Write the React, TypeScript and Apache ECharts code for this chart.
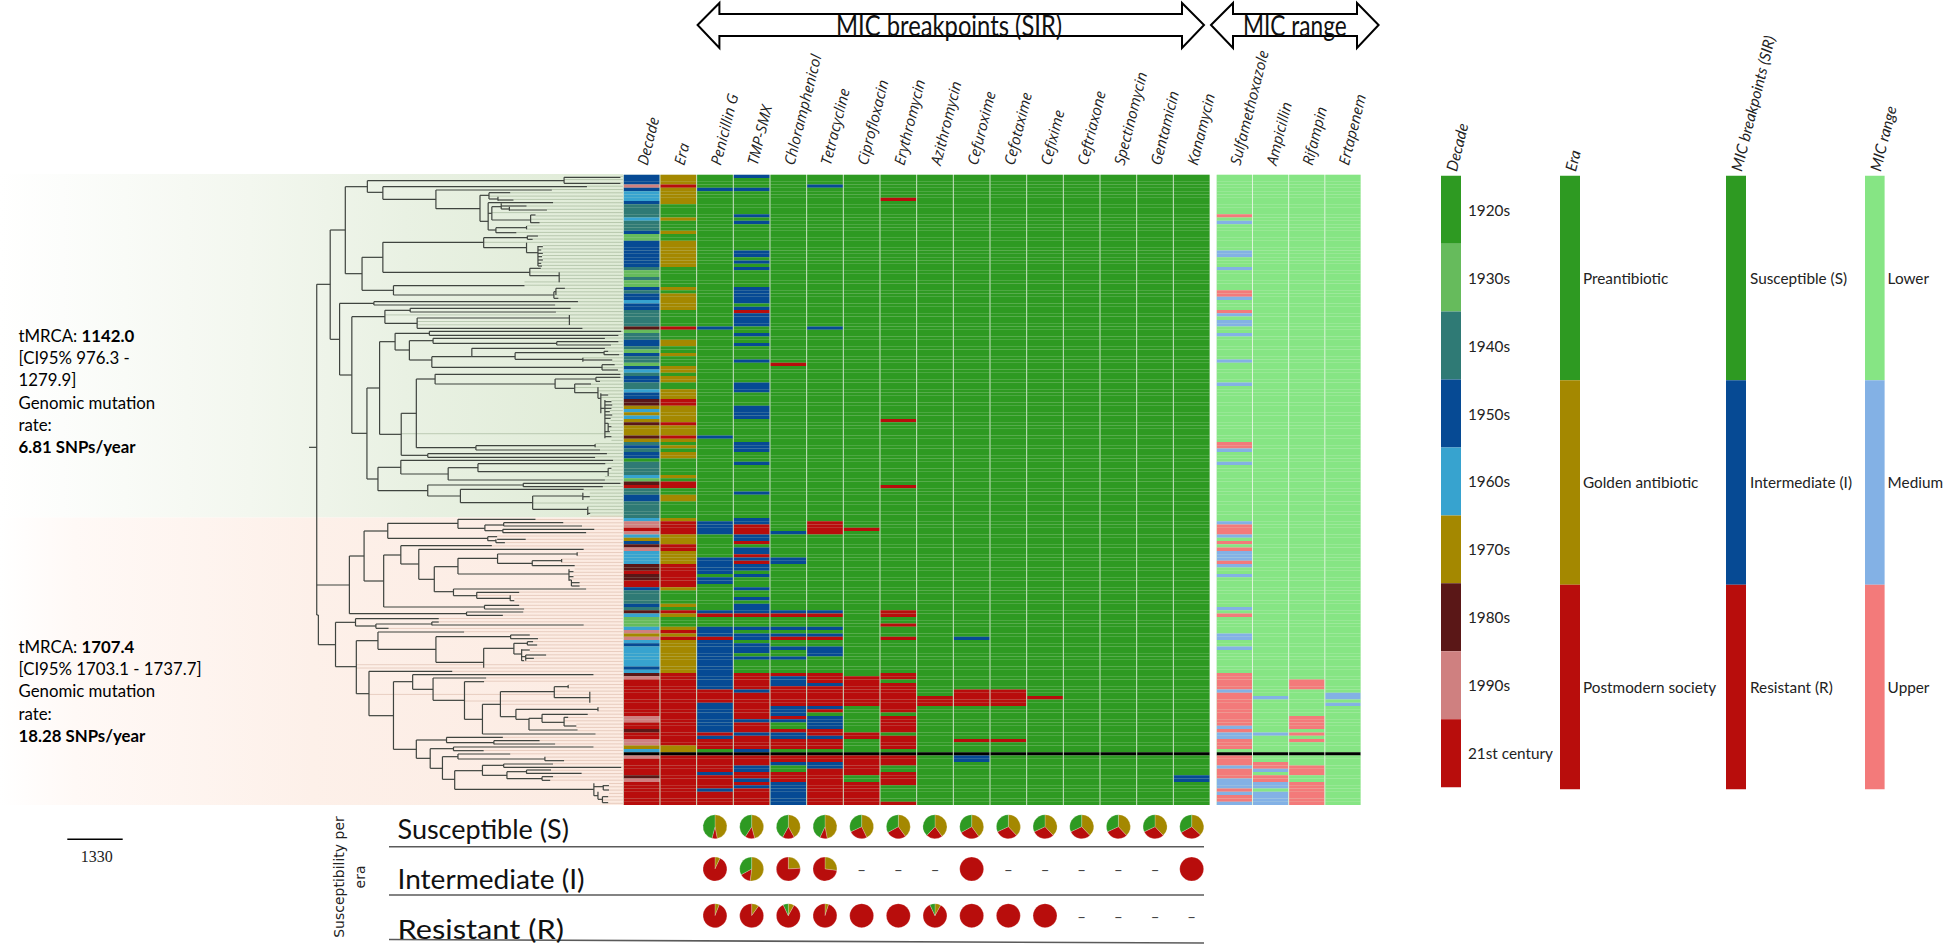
import React, { useEffect, useRef } from "react";
import * as echarts from "echarts";

type Run = [number, number, string];
type Seg = number[];

// ---------- palette ----------
const paletteKeys = ["20", "30", "40", "50", "60", "70", "80", "90", "21", "Pre", "Gold", "Post", "S", "I", "R", "L", "M", "U", "X"];
const paletteColors = ["#2e9a22", "#66bb5c", "#2f7a75", "#064a94", "#37a3cf", "#a48800", "#5a1717", "#cf8080", "#b80d0c", "#2e9a22", "#a48800", "#b80d0c", "#2e9a22", "#064a94", "#b80d0c", "#86e584", "#83b1e5", "#f37a7a", "#000000"];

// ---------- heat map rows ----------
const ROW_COUNT = 191;
const noDataRow = 175;

const sirColumns = ["Decade", "Era", "Penicillin G", "TMP-SMX", "Chloramphenicol", "Tetracycline", "Ciprofloxacin", "Erythromycin", "Azithromycin", "Cefuroxime", "Cefotaxime", "Cefixime", "Ceftriaxone", "Spectinomycin", "Gentamicin", "Kanamycin"];
const micColumns = ["Sulfamethoxazole", "Ampicillin", "Rifampin", "Ertapenem"];

const decadeRuns: Run[] = [[0,2,"50"],[3,3,"90"],[4,4,"50"],[5,7,"60"],[8,8,"50"],[9,12,"40"],[13,13,"60"],[14,16,"40"],[17,17,"50"],[18,19,"30"],[20,27,"50"],[28,28,"40"],[29,30,"30"],[31,31,"40"],[32,33,"30"],[34,34,"50"],[35,35,"40"],[36,37,"50"],[38,38,"60"],[39,40,"50"],[41,45,"40"],[46,46,"80"],[47,47,"30"],[48,49,"40"],[50,51,"50"],[52,52,"40"],[53,53,"30"],[54,54,"50"],[55,56,"40"],[57,57,"30"],[58,58,"50"],[59,59,"60"],[60,60,"40"],[61,62,"50"],[63,64,"40"],[65,65,"60"],[66,67,"50"],[68,69,"80"],[70,70,"70"],[71,71,"60"],[72,72,"70"],[73,73,"60"],[74,74,"70"],[75,75,"80"],[76,78,"70"],[79,79,"80"],[80,80,"70"],[81,81,"40"],[82,82,"50"],[83,83,"40"],[84,85,"50"],[86,86,"20"],[87,90,"40"],[91,91,"60"],[92,92,"30"],[93,93,"80"],[94,94,"21"],[95,96,"40"],[97,98,"50"],[99,103,"40"],[104,104,"60"],[105,106,"90"],[107,107,"21"],[108,108,"90"],[109,109,"60"],[110,110,"70"],[111,111,"50"],[112,112,"80"],[113,113,"90"],[114,117,"60"],[118,119,"80"],[120,120,"21"],[121,122,"80"],[123,124,"21"],[125,125,"50"],[126,129,"40"],[130,130,"50"],[131,131,"40"],[132,132,"80"],[133,133,"60"],[134,136,"30"],[137,137,"60"],[138,138,"90"],[139,139,"70"],[140,140,"90"],[141,141,"60"],[142,142,"50"],[143,148,"60"],[149,149,"50"],[150,150,"60"],[151,151,"80"],[152,152,"90"],[153,163,"21"],[164,165,"90"],[166,167,"21"],[168,168,"80"],[169,170,"21"],[171,172,"90"],[173,173,"70"],[174,174,"60"],[176,176,"90"],[177,181,"21"],[182,182,"80"],[183,183,"90"],[184,190,"21"]];

const eraRuns: Run[] = [[0,2,"Gold"],[3,3,"Post"],[4,8,"Gold"],[13,13,"Gold"],[17,17,"Gold"],[20,27,"Gold"],[34,34,"Gold"],[36,40,"Gold"],[46,46,"Post"],[50,51,"Gold"],[54,54,"Gold"],[58,59,"Gold"],[61,62,"Gold"],[65,67,"Gold"],[68,69,"Post"],[70,74,"Gold"],[75,75,"Post"],[76,78,"Gold"],[79,79,"Post"],[80,80,"Gold"],[82,82,"Gold"],[84,85,"Gold"],[91,91,"Gold"],[93,94,"Post"],[97,98,"Gold"],[104,104,"Gold"],[105,108,"Post"],[109,111,"Gold"],[112,113,"Post"],[114,117,"Gold"],[118,124,"Post"],[125,125,"Gold"],[130,130,"Gold"],[132,132,"Post"],[133,133,"Gold"],[137,137,"Gold"],[138,138,"Post"],[139,139,"Gold"],[140,140,"Post"],[141,150,"Gold"],[151,172,"Post"],[173,174,"Gold"],[176,190,"Post"]];

const penicillinRuns: Run[] = [[4,4,"I"],[46,46,"I"],[79,79,"I"],[105,108,"I"],[116,120,"I"],[122,123,"I"],[132,132,"I"],[133,133,"R"],[137,139,"I"],[140,140,"R"],[141,155,"I"],[156,159,"R"],[160,168,"I"],[169,169,"R"],[170,170,"I"],[171,173,"R"],[176,180,"R"],[181,181,"I"],[182,185,"R"],[186,186,"I"],[187,190,"R"]];
const tmpSmxRuns: Run[] = [[0,0,"I"],[4,4,"I"],[12,12,"I"],[14,14,"I"],[23,24,"I"],[26,26,"I"],[28,28,"I"],[34,38,"I"],[40,40,"I"],[41,41,"R"],[42,45,"I"],[48,48,"I"],[51,51,"I"],[56,56,"I"],[63,65,"I"],[70,73,"I"],[81,83,"I"],[87,87,"I"],[96,96,"I"],[104,105,"I"],[106,108,"R"],[109,110,"I"],[111,111,"R"],[113,114,"I"],[115,115,"R"],[116,116,"I"],[117,117,"R"],[118,119,"I"],[121,121,"I"],[125,125,"I"],[128,128,"I"],[130,132,"I"],[133,133,"R"],[137,137,"I"],[139,140,"I"],[142,144,"I"],[146,146,"I"],[151,155,"R"],[156,156,"I"],[157,164,"R"],[165,165,"I"],[166,168,"R"],[169,169,"I"],[170,173,"R"],[174,174,"I"],[176,178,"R"],[179,180,"I"],[181,182,"R"],[183,183,"I"],[184,184,"R"],[185,185,"I"],[186,190,"R"]];
const chloramphenicolRuns: Run[] = [[57,57,"R"],[108,108,"I"],[116,117,"I"],[132,132,"I"],[133,133,"R"],[137,137,"I"],[139,139,"I"],[140,140,"R"],[143,143,"I"],[146,146,"I"],[151,151,"R"],[152,154,"I"],[155,160,"R"],[161,163,"I"],[164,164,"R"],[165,165,"I"],[168,168,"R"],[169,170,"I"],[171,173,"R"],[176,177,"R"],[178,178,"I"],[181,183,"R"],[184,190,"I"]];
const tetracyclineRuns: Run[] = [[3,3,"I"],[46,46,"I"],[105,108,"R"],[132,132,"I"],[133,133,"R"],[137,137,"I"],[139,139,"I"],[140,140,"R"],[143,145,"I"],[151,153,"R"],[154,154,"I"],[155,160,"R"],[161,161,"I"],[162,162,"R"],[164,167,"I"],[168,169,"R"],[170,170,"I"],[171,173,"R"],[176,177,"R"],[178,179,"I"],[180,190,"R"]];
const ciprofloxacinRuns: Run[] = [[107,107,"R"],[152,160,"R"],[169,170,"R"],[176,181,"R"],[184,190,"R"]];
const erythromycinRuns: Run[] = [[7,7,"R"],[74,74,"R"],[94,94,"R"],[132,133,"R"],[136,136,"R"],[140,140,"R"],[151,152,"R"],[154,162,"R"],[164,168,"R"],[170,173,"R"],[176,178,"R"],[181,184,"R"],[190,190,"R"]];
const azithromycinRuns: Run[] = [[158,160,"R"]];
const cefuroximeRuns: Run[] = [[140,140,"I"],[156,160,"R"],[171,171,"R"],[176,177,"I"]];
const cefotaximeRuns: Run[] = [[156,160,"R"],[171,171,"R"]];
const cefiximeRuns: Run[] = [[158,158,"R"]];
const ceftriaxoneRuns: Run[] = [];
const spectinomycinRuns: Run[] = [];
const gentamicinRuns: Run[] = [];
const kanamycinRuns: Run[] = [[182,183,"I"]];

const sulfaRuns: Run[] = [[12,12,"U"],[14,14,"M"],[23,24,"M"],[28,28,"M"],[35,36,"U"],[37,37,"M"],[41,41,"U"],[42,42,"M"],[44,45,"M"],[48,48,"M"],[56,56,"M"],[63,63,"M"],[81,82,"U"],[83,83,"M"],[87,87,"M"],[105,105,"M"],[106,108,"U"],[109,109,"M"],[111,111,"U"],[113,113,"U"],[114,116,"M"],[117,117,"U"],[118,118,"M"],[121,121,"M"],[131,131,"M"],[133,133,"U"],[139,140,"M"],[143,143,"M"],[151,155,"U"],[156,156,"M"],[157,166,"U"],[167,167,"M"],[168,168,"U"],[169,170,"M"],[171,173,"U"],[176,178,"U"],[179,179,"M"],[180,182,"U"],[183,185,"M"],[186,186,"U"],[187,187,"M"],[188,189,"U"],[190,190,"M"]];
const ampicillinRuns: Run[] = [[158,158,"M"],[169,169,"M"],[178,179,"U"],[180,180,"M"],[182,183,"U"],[184,185,"M"],[187,190,"M"]];
const rifampinRuns: Run[] = [[153,155,"U"],[164,167,"U"],[169,169,"U"],[171,171,"U"],[179,181,"U"],[184,190,"U"]];
const ertapenemRuns: Run[] = [[157,158,"M"],[160,160,"M"]];

const sirRuns: Run[][] = [decadeRuns, eraRuns, penicillinRuns, tmpSmxRuns, chloramphenicolRuns, tetracyclineRuns, ciprofloxacinRuns, erythromycinRuns, azithromycinRuns, cefuroximeRuns, cefotaximeRuns, cefiximeRuns, ceftriaxoneRuns, spectinomycinRuns, gentamicinRuns, kanamycinRuns];
const sirDefaults = ["40", "Pre", "S", "S", "S", "S", "S", "S", "S", "S", "S", "S", "S", "S", "S", "S"];
const micRuns: Run[][] = [sulfaRuns, ampicillinRuns, rifampinRuns, ertapenemRuns];

// ---------- tree: [x1, x2, y] horizontals and [x, y1, y2] verticals ----------
const topH: Seg[] = [[757,776,862],[776,809,373],[809,846,210],[846,900,80],[900,1382,62],[1382,1520,52],[1382,1520,70],[900,938,97],[938,1438,80],[938,1068,118],[1068,1352,90],[1068,1176,146],[1176,1198,106],[1198,1250,98],[1198,1220,117],[1220,1258,120],[1176,1196,184],[1196,1355,128],[1196,1205,160],[1205,1228,140],[1228,1290,138],[1228,1248,147],[1248,1340,150],[1205,1300,180],[1300,1312,165],[1300,1322,188],[1196,1215,210],[1215,1290,203],[1215,1265,218],
[846,887,341],[887,938,292],[938,1185,247],[1185,1292,233],[1292,1318,228],[1292,1305,238],[1185,1290,263],[1290,1318,278],[1318,1330,260],[1318,1326,270],[1318,1330,280],[1318,1328,290],[1318,1330,300],[1318,1326,310],[1318,1328,318],[938,1298,337],[1298,1325,325],[1298,1370,347],[887,964,391],[964,1285,377],[964,1357,405],[1357,1362,395],[1362,1384,385],[1357,1368,415],
[809,832,538],[832,916,430],[916,1416,425],[916,1360,435],[832,862,645],[862,943,470],[943,1005,451],[1005,1398,445],[1005,1362,456],[943,1022,490],[1022,1395,474],[1022,1427,505],[862,899,820],[899,930,684],[930,968,545],[968,1052,520],[1052,1522,514],[1052,1515,526],[968,1003,570],[1003,1061,542],[1061,1482,535],[1061,1364,550],[1364,1515,545],[1364,1497,555],[1003,1058,600],[1058,1156,590],[1156,1482,565],[1156,1262,590],[1262,1480,578],[1480,1490,574],[1480,1517,584],[1262,1428,598],[1428,1500,600],[1058,1475,622],[1475,1506,614],[1475,1514,630],
[930,983,823],[983,1020,760],[1020,1066,657],[1066,1520,643],[1066,1360,672],[1360,1460,657],[1460,1520,652],[1460,1470,664],[1360,1408,685],[1408,1448,672],[1408,1465,698],[1465,1472,715],[1472,1482,745],[1472,1490,705],[1482,1498,725],[1482,1500,735],[1482,1498,745],[1482,1494,755],[1482,1500,765],[1482,1496,775],[1482,1490,790],[1490,1498,800],[1482,1494,815],[1482,1498,830],[1020,1166,863],[1166,1458,857],[1166,1470,870],[983,1048,886],[1048,1487,881],[1048,1458,892],
[899,926,957],[926,982,922],[982,1502,901],[982,1098,942],[1098,1171,923],[1171,1483,911],[1171,1490,935],[1490,1498,925],[1098,1482,960],[926,1048,992],[1048,1282,975],[1282,1520,970],[1282,1477,980],[1048,1128,1008],[1128,1430,988],[1128,1305,1028],[1305,1428,1008],[1428,1445,1010],[1305,1440,1048],[1440,1446,1060]];
const topV: Seg[] = [[776,373,1050],[809,210,538],[846,80,341],[900,62,97],[1382,52,70],[938,80,118],[1068,90,146],[1176,106,184],[1198,98,117],[1220,110,122],[1196,128,210],[1205,140,180],[1228,130,147],[1248,140,152],[1300,165,188],[1215,203,218],[1290,198,208],[887,292,391],[938,247,337],[1185,233,263],[1292,227,238],[1290,248,278],[1318,258,318],[1298,325,347],[1370,337,367],[964,377,405],[1357,395,415],[1362,385,405],
[832,430,645],[916,425,435],[862,470,820],[943,451,490],[1005,445,456],[1022,474,505],[1395,465,495],[899,684,957],[930,545,823],[968,520,570],[1052,514,526],[1003,542,600],[1061,535,550],[1364,545,555],[1058,590,622],[1156,565,590],[1262,578,598],[1480,574,584],[1428,593,605],[1475,614,630],
[983,760,886],[1020,657,863],[1066,643,672],[1360,657,685],[1460,652,664],[1408,672,698],[1465,682,715],[1472,700,760],[1482,720,835],[1490,790,815],[1166,857,870],[1458,852,862],[1048,881,892],[926,922,992],[982,901,942],[1098,923,960],[1171,911,935],[1490,925,948],[1048,975,1008],[1282,970,980],[1128,988,1028],[1305,1008,1048],[1428,998,1020],[1440,1040,1065]];

const bottomH: Seg[] = [[776,856,225],[856,892,138],[892,950,63],[950,1122,40],[1122,1312,28],[1122,1188,55],[1188,1234,45],[1234,1380,38],[1234,1426,48],[1188,1232,62],[1232,1456,58],[1232,1436,68],[950,1195,85],[1195,1218,80],[1218,1288,88],[1195,1215,92],[1215,1237,98],[892,940,213],[940,982,135],[982,1205,107],[982,1026,162],[1026,1430,118],[1026,1064,208],[1064,1122,170],[1122,1219,145],[1219,1414,132],[1219,1304,160],[1304,1376,152],[1304,1408,167],[1122,1394,192],[1394,1405,185],[1394,1405,200],[1394,1400,210],[1400,1420,218],[1400,1420,228],[1064,1111,245],[1111,1436,237],[1111,1168,257],[1168,1272,247],[1168,1250,265],[1250,1260,272],[940,1187,291],[1187,1272,286],[1187,1284,297],[856,1143,311],[1143,1282,306],[1143,1232,316],
[776,780,315],[780,822,404],[822,871,337],[871,1075,326],[871,921,348],[921,1058,342],[1058,1430,345],[1058,1075,336],[921,952,355],[822,873,470],[873,926,392],[926,1137,366],[926,1068,418],[1068,1251,380],[1251,1298,375],[1251,1318,386],[1068,1185,457],[1185,1259,415],[1259,1292,400],[1292,1306,395],[1292,1316,405],[1259,1278,432],[1278,1298,420],[1278,1288,440],[1288,1338,435],[1288,1308,445],[1278,1284,452],
[873,904,551],[904,1108,484],[904,964,617],[964,1011,515],[1011,1454,494],[1011,1061,538],[1061,1191,504],[1061,1138,571],[1138,1186,515],[1138,1182,628],[1182,1226,583],[1226,1358,545],[1358,1392,530],[1358,1445,563],[1226,1264,620],[1264,1465,598],[1264,1296,628],[1296,1328,625],[1328,1440,613],[1328,1382,637],[1382,1392,622],[1382,1412,648],[1296,1415,660],[1182,1459,672],
[964,1020,718],[1020,1094,690],[1094,1232,682],[1094,1210,698],[1210,1322,692],[1210,1360,702],[1020,1054,745],[1054,1111,716],[1111,1454,711],[1111,1185,722],[1054,1084,775],[1084,1122,740],[1122,1250,732],[1122,1335,747],[1335,1382,752],[1084,1114,808],[1114,1182,782],[1182,1234,766],[1234,1522,772],[1234,1355,762],[1182,1242,796],[1242,1290,785],[1290,1350,780],[1290,1425,790],[1242,1328,806],[1328,1355,800],[1328,1348,811],[1114,1455,838],[1455,1478,830],[1478,1492,827],[1478,1492,840],[1455,1465,857],[1465,1476,868],[1476,1490,860],[1476,1490,878]];
const bottomV: Seg[] = [[776,0,315],[856,138,311],[892,63,213],[950,40,85],[1122,28,55],[1188,45,62],[1234,38,48],[1232,58,68],[1195,80,92],[1215,88,98],[940,135,291],[982,107,162],[1026,118,208],[1064,170,245],[1122,145,192],[1219,132,160],[1414,127,137],[1304,152,167],[1376,147,157],[1394,178,212],[1400,210,228],[1111,237,257],[1168,247,265],[1250,256,272],[1187,286,297],[1143,306,316],
[780,315,404],[822,337,470],[871,326,348],[921,342,355],[1058,336,346],[873,392,551],[926,366,418],[1068,380,457],[1251,375,386],[1185,415,473],[1259,400,432],[1292,395,405],[1278,418,452],[1288,435,452],[904,484,617],[964,515,718],[1011,494,538],[1061,504,571],[1138,515,628],[1182,583,672],[1226,545,620],[1358,530,563],[1392,525,535],[1445,545,578],[1264,598,628],[1465,592,604],[1296,625,660],[1328,613,637],[1382,622,648],
[1020,690,745],[1094,682,698],[1210,692,703],[1054,716,775],[1111,711,722],[1084,740,808],[1122,732,747],[1335,740,752],[1114,782,838],[1182,766,796],[1234,762,772],[1242,785,806],[1290,780,791],[1328,800,811],[1455,820,857],[1478,825,840],[1465,845,868],[1476,860,878]];

// ---------- legends ----------
const decadeLegend = ["1920s", "1930s", "1940s", "1950s", "1960s", "1970s", "1980s", "1990s", "21st century"];
const decadeCodes = ["20", "30", "40", "50", "60", "70", "80", "90", "21"];
const eraLegend = ["Preantibiotic", "Golden antibiotic", "Postmodern society"];
const eraCodes = ["Pre", "Gold", "Post"];
const sirLegend = ["Susceptible (S)", "Intermediate (I)", "Resistant (R)"];
const sirCodes = ["S", "I", "R"];
const micLegend = ["Lower", "Medium", "Upper"];
const micCodes = ["L", "M", "U"];

// ---------- pies: [golden, postmodern, preantibiotic] percent per antibiotic ----------
const pieRowNames = ["Susceptible (S)", "Intermediate (I)", "Resistant (R)"];
const susceptiblePies = [[47,7,46],[46,13,41],[42,16,42],[47,10,43],[43,25,32],[40,27,33],[40,22,38],[40,27,33],[38,30,32],[38,30,32],[38,30,32],[38,30,32],[38,30,32],[37,30,33]];
const intermediatePies = [[7,93,0],[52,15,33],[24,76,0],[27,73,0],null,null,null,[0,100,0],null,null,null,null,null,[0,100,0]];
const resistantPies = [[6,94,0],[10,90,0],[8,85,7],[5,95,0],[0,100,0],[0,100,0],[8,85,7],[0,100,0],[0,100,0],[0,100,0],null,null,null,null];
const pieEras = ["Golden antibiotic", "Postmodern society", "Preantibiotic"];
const pieEraColors = ["#a48800", "#b80d0c", "#2e9a22"];

// ---------- helpers ----------
const colorIndex = (c: string) => paletteKeys.indexOf(c);

function expandColumn(runs: Run[], def: string): string[] {
  const out: string[] = new Array(ROW_COUNT).fill(def);
  runs.forEach(([a, b, c]) => { for (let i = a; i <= b; i++) out[i] = c; });
  out[noDataRow] = "X";
  return out;
}
function cellData(cols: Run[][], defs: string[]) {
  const d: number[][] = [];
  cols.forEach((runs, c) => expandColumn(runs, defs[c]).forEach((code, r) => d.push([c, r, colorIndex(code)])));
  return d;
}
const cellRender = (gapX: number) => (_p: any, api: any) => {
  const p = api.coord([api.value(0), api.value(1)]);
  const s = api.size([1, 1]);
  return {
    type: "rect",
    shape: { x: p[0] - s[0] / 2 + gapX / 2, y: p[1] - s[1] / 2, width: s[0] - gapX, height: s[1] },
    style: { fill: paletteColors[api.value(2)] },
  };
};
const lineRender = (color: string, width: number) => (_p: any, api: any) => {
  const a = api.coord([api.value(0), api.value(1)]);
  const b = api.coord([api.value(2), api.value(3)]);
  return {
    type: "line",
    shape: { x1: a[0], y1: a[1], x2: b[0], y2: b[1] },
    style: { stroke: color, lineWidth: width },
  };
};

const BOTTOM_OFFSET = 1050;
const treeSegments: number[][] = [
  ...topH.map(([a, b, y]) => [a, y, b, y]),
  ...topV.map(([x, a, b]) => [x, a, x, b]),
  ...bottomH.map(([a, b, y]) => [a, y + BOTTOM_OFFSET, b, y + BOTTOM_OFFSET]),
  ...bottomV.map(([x, a, b]) => [x, a + BOTTOM_OFFSET, x, b + BOTTOM_OFFSET]),
];
const treeTop = 44, rowStep = 9.9;
const allH = [...topH, ...bottomH.map(([a, b, y]) => [a, b, y + BOTTOM_OFFSET])];
const leaders = { top: [] as number[][], bottom: [] as number[][] };
for (let r = 0; r < ROW_COUNT; r++) {
  const y = treeTop + (r + 0.5) * rowStep;
  let start = 0;
  allH.forEach(([, b, yy]) => { if (Math.abs(yy - y) <= 6 && b > start) start = b; });
  if (!start) allH.forEach(([, b, yy]) => { if (Math.abs(yy - y) <= 14 && b > start) start = b; });
  if (!start) start = 1330;
  (r < 103 ? leaders.top : leaders.bottom).push([start, y, 1526, y]);
}

const catAxis = (data: string[], gridIndex: number, extra: any = {}) => ({
  type: "category", gridIndex, data,
  axisLine: { show: false }, axisTick: { show: false }, splitLine: { show: false },
  ...extra,
});

const LEFT_COLS = 623.3, COL_W = 36.67;
const FONT = "Lato";

const legendGrids = [
  { left: 1441, width: 20, top: 175.7, height: 611.5 },
  { left: 1560, width: 20, top: 175.7, height: 613.5 },
  { left: 1726, width: 20, top: 175.7, height: 613.5 },
  { left: 1865, width: 20, top: 175.7, height: 613.5 },
];
const legendDefs = [
  { title: "Decade", labels: decadeLegend, codes: decadeCodes, margin: 7 },
  { title: "Era", labels: eraLegend, codes: eraCodes, margin: 3 },
  { title: "MIC breakpoints (SIR)", labels: sirLegend, codes: sirCodes, margin: 4 },
  { title: "MIC range", labels: micLegend, codes: micCodes, margin: 3 },
];
const LABEL_ROTATE = -76;

function buildOption() {
  const grid: any[] = [
    { left: 0, width: 640, top: 174.67, height: 630.33 },
    { left: LEFT_COLS, width: COL_W * 16, top: 174.67, height: 630.33, show: true, backgroundColor: "#cfe3c9", borderWidth: 0 },
    { left: 1216.3, width: 144.7, top: 174.67, height: 630.33, show: true, backgroundColor: "#dff5dc", borderWidth: 0 },
    ...legendGrids,
  ];
  const rows = Array.from({ length: ROW_COUNT }, (_, i) => String(i));
  const colLabel = { rotate: LABEL_ROTATE, fontFamily: "Open Sans", fontStyle: "italic", fontSize: 15, color: "#222", margin: 10, interval: 0 };
  const xAxis: any[] = [
    { type: "value", gridIndex: 0, min: 0, max: 1568, show: false },
    catAxis(sirColumns, 1, { position: "top", axisLabel: colLabel }),
    catAxis(micColumns, 2, { position: "top", axisLabel: colLabel }),
  ];
  const yAxis: any[] = [
    { type: "value", gridIndex: 0, min: 44, max: 1935, inverse: true, show: false },
    catAxis(rows, 1, { inverse: true, axisLabel: { show: false } }),
    catAxis(rows, 2, { inverse: true, axisLabel: { show: false } }),
  ];
  const series: any[] = [
    { type: "custom", name: "leaders top", xAxisIndex: 0, yAxisIndex: 0, silent: true, clip: false, z: 2, data: leaders.top, renderItem: lineRender("rgba(95,125,85,0.32)", 1) },
    { type: "custom", name: "leaders bottom", xAxisIndex: 0, yAxisIndex: 0, silent: true, clip: false, z: 2, data: leaders.bottom, renderItem: lineRender("rgba(190,140,115,0.32)", 1) },
    { type: "custom", name: "tree", xAxisIndex: 0, yAxisIndex: 0, silent: true, clip: false, z: 3, data: treeSegments, renderItem: lineRender("#3f443f", 1.2) },
    { type: "custom", name: "SIR heat", xAxisIndex: 1, yAxisIndex: 1, silent: true, clip: false, z: 4, data: cellData(sirRuns, sirDefaults), renderItem: cellRender(1) },
    { type: "custom", name: "MIC heat", xAxisIndex: 2, yAxisIndex: 2, silent: true, clip: false, z: 4, data: cellData(micRuns, ["L", "L", "L", "L"]), renderItem: cellRender(1) },
  ];
  legendDefs.forEach((l, k) => {
    const g = 3 + k;
    xAxis.push(catAxis([l.title], g, {
      position: "top",
      axisLabel: { rotate: LABEL_ROTATE, fontFamily: FONT, fontStyle: "italic", fontSize: 15.5, color: "#222", margin: 5, interval: 0 },
    }));
    yAxis.push(catAxis(l.labels, g, {
      inverse: true, position: "right",
      axisLabel: { fontFamily: FONT, fontSize: 15.3, color: "#222", margin: l.margin, interval: 0 },
    }));
    series.push({
      type: "custom", name: l.title + " legend", xAxisIndex: g, yAxisIndex: g, silent: true, z: 4,
      data: l.codes.map((c, i) => [0, i, colorIndex(c)]),
      renderItem: cellRender(0),
    });
  });

  const pieCenterX = (i: number) => LEFT_COLS + COL_W * (i + 2.5);
  const pieRowY = [826.7, 869, 915.7];
  const graphicDashes: any[] = [];
  [susceptiblePies, intermediatePies, resistantPies].forEach((row, ri) => {
    row.forEach((vals, i) => {
      if (!vals) {
        graphicDashes.push({ type: "text", x: pieCenterX(i), y: pieRowY[ri], style: { text: "–", font: `15px ${FONT}`, fill: "#444", textAlign: "center", textVerticalAlign: "middle" } });
        return;
      }
      series.push({
        type: "pie", name: `${pieRowNames[ri]} ${sirColumns[i + 2]}`, silent: true, z: 5,
        center: [pieCenterX(i), pieRowY[ri]], radius: 12, startAngle: 90, clockwise: true,
        label: { show: false }, labelLine: { show: false },
        itemStyle: { borderColor: "rgba(255,255,255,0.45)", borderWidth: 0.5 },
        data: vals.map((v, j) => ({ name: pieEras[j], value: v, itemStyle: { color: pieEraColors[j] } })).filter((d) => d.value > 0),
      });
    });
  });

  const arrow = (x0: number, xa: number, xb: number, x1: number) => ({
    type: "polygon", z: 6,
    shape: { points: [[x0, 25], [xa, 3], [xa, 14], [xb, 14], [xb, 3], [x1, 25], [xb, 48], [xb, 36], [xa, 36], [xa, 48]] },
    style: { fill: "#fff", stroke: "#000", lineWidth: 2 },
  });
  const bigText = (text: string, x: number, y: number, sx = 1, size = 27) => ({
    type: "text", x, y, scaleX: sx, z: 7,
    style: { text, font: `${size}px ${FONT}`, fill: "#111", textVerticalAlign: "middle" },
  });
  const ruleLine = (x1: number, y1: number, x2: number, y2: number, w = 1.6) => ({
    type: "line", z: 6, shape: { x1, y1, x2, y2 }, style: { stroke: "#5a5a5a", lineWidth: w },
  });
  const leftRich = {
    n: { fontFamily: FONT, fontSize: 16.8, color: "#111", lineHeight: 22.3 },
    b: { fontFamily: FONT, fontSize: 16.8, fontWeight: "bold", color: "#111", lineHeight: 22.3 },
  };
  const graphic: any[] = [
    {
      type: "rect", z: -1, shape: { x: 0, y: 174, width: 623, height: 343.5 },
      style: { fill: new echarts.graphic.LinearGradient(0, 0, 1, 0, [{ offset: 0, color: "#ffffff" }, { offset: 0.1, color: "#fcfdfb" }, { offset: 0.4, color: "#f3f7ef" }, { offset: 0.65, color: "#e9f1e3" }, { offset: 1, color: "#dfebd6" }]) },
    },
    {
      type: "rect", z: -1, shape: { x: 0, y: 517.5, width: 623, height: 287.5 },
      style: { fill: new echarts.graphic.LinearGradient(0, 0, 1, 0, [{ offset: 0, color: "#ffffff" }, { offset: 0.12, color: "#fff9f6" }, { offset: 0.5, color: "#fdf0e9" }, { offset: 1, color: "#fcebe2" }]) },
    },
    arrow(697.6, 719.4, 1182, 1204),
    arrow(1211, 1233, 1357, 1378.6),
    bigText("MIC breakpoints (SIR)", 836, 25, 0.82, 29),
    bigText("MIC range", 1243, 25, 0.78, 29),
    {
      type: "text", x: 18.5, y: 335, z: 7,
      style: { text: "{n|tMRCA: }{b|1142.0}\n{n|[CI95% 976.3 -}\n{n|1279.9]}\n{n|Genomic mutation}\n{n|rate:}\n{b|6.81 SNPs/year}", rich: leftRich, textVerticalAlign: "top", y: -11 },
    },
    {
      type: "text", x: 18.5, y: 646, z: 7,
      style: { text: "{n|tMRCA: }{b|1707.4}\n{n|[CI95% 1703.1 - 1737.7]}\n{n|Genomic mutation}\n{n|rate:}\n{b|18.28 SNPs/year}", rich: leftRich, textVerticalAlign: "top", y: -11 },
    },
    { type: "line", z: 6, shape: { x1: 67.3, y1: 839.3, x2: 122.7, y2: 839.3 }, style: { stroke: "#000", lineWidth: 1.6 } },
    { type: "text", x: 96.7, y: 856, z: 7, style: { text: "1330", font: "16px 'Liberation Serif'", fill: "#222", textAlign: "center", textVerticalAlign: "middle" } },
    bigText("Susceptible (S)", 397.5, 828, 1.0),
    bigText("Intermediate (I)", 397.5, 879, 1.04),
    bigText("Resistant (R)", 397.5, 928, 1.14),
    ruleLine(389, 846.7, 1204, 846.7),
    ruleLine(389, 895, 1204, 895),
    ruleLine(389, 939.5, 1204, 943),
    { type: "text", x: 339, y: 877, rotation: Math.PI / 2, z: 7, style: { text: "Susceptibility per", font: "14px 'DejaVu Sans'", fill: "#222", textAlign: "center", textVerticalAlign: "middle" } },
    { type: "text", x: 360, y: 877, rotation: Math.PI / 2, z: 7, style: { text: "era", font: "14px 'DejaVu Sans'", fill: "#222", textAlign: "center", textVerticalAlign: "middle" } },
    ...graphicDashes,
  ];

  return { animation: false, backgroundColor: "#fff", grid, xAxis, yAxis, series, graphic };
}

export default function App() {
  const ref = useRef<HTMLDivElement>(null);
  useEffect(() => {
    const chart = echarts.init(ref.current!, undefined, { renderer: "svg" });
    chart.setOption(buildOption() as any);
    return () => chart.dispose();
  }, []);
  return <div ref={ref} style={{ position: "fixed", left: 0, top: 0, width: 1946, height: 946 }} />;
}
